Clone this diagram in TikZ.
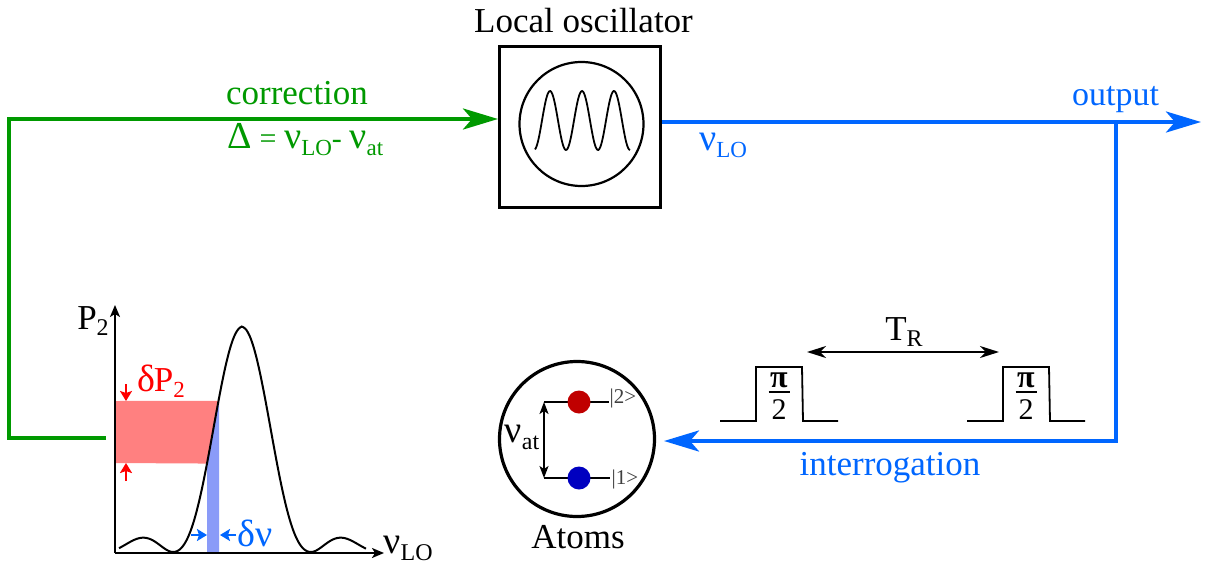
\documentclass[tikz,border=0pt]{standalone}
\usepackage{fontspec}
\setmainfont{Liberation Serif}
\usetikzlibrary{arrows.meta}
\definecolor{cgreen}{HTML}{009900}
\definecolor{cblue}{HTML}{0066FF}
\definecolor{cred}{HTML}{FF0000}
\definecolor{bandred}{HTML}{FF8080}
\definecolor{bandblue}{HTML}{8A9BF8}
\definecolor{dotred}{HTML}{C00000}
\definecolor{dotblue}{HTML}{0000C0}
\newcommand{\fs}[1]{\fontsize{#1}{#1}\selectfont}
\newcommand{\lowered}[3]{\raisebox{-#2pt}{\fs{#1}#3}}
\newcommand{\gk}[1]{{\fs{38}#1}}
\tikzset{
  x=1pt,y=-1pt,
  label34/.style={inner sep=0pt,anchor=base,font=\fs{35}},
  feed/.style={line width=4.2pt,line join=miter,-{Stealth[length=35pt,width=21pt,inset=9pt]}},
  thinarrow/.style={line width=1.8pt,-{Stealth[length=12pt,width=10pt,inset=3pt]}},
  twoarrow/.style={line width=2.2pt,{Stealth[length=19pt,width=12pt,inset=6pt]}-{Stealth[length=19pt,width=12pt,inset=6pt]}},
  smallarrow/.style={line width=2.6pt,-{Stealth[length=10pt,width=12pt,inset=2pt]}},
  pulse/.style={line width=1.8pt,line join=miter},
  dot/.style={circle,inner sep=0pt,minimum size=23pt},
}
\pgfmathdeclarefunction{lineshape}{1}{%
  \begingroup
  \pgfmathparse{(#1-242.013)/69}\let\uu\pgfmathresult
  \pgfmathparse{sin(180*\uu)/(3.14159*\uu)}\let\ss\pgfmathresult
  \pgfmathparse{552-225*\ss*\ss*(abs(\uu)>1?1.35:1)}%
  \pgfmathsmuggle\pgfmathresult
  \endgroup
}
\begin{document}
\begin{tikzpicture}
\useasboundingbox (0,0) rectangle (1205,568);

% error-signal bands
\fill[bandblue] (207,553) -- (219,553) -- (219,401)
  -- plot[domain=218.5:207,samples=12] ({\x},{lineshape(\x)}) -- cycle;
\fill[bandred] (115,401) -- plot[domain=218.5:207,samples=12] ({\x},{lineshape(\x)}) -- (115,463) -- cycle;

% axes
\coordinate (origin) at (115,553);
\coordinate (ytop) at (115,305);
\coordinate (xend) at (384,553);
\draw[thinarrow] (origin) -- (ytop);
\draw[thinarrow] (origin) -- (xend);
\draw[line width=2pt,smooth] plot[domain=119:366,samples=160] ({\x},{lineshape(\x)});
\node[label34] (ptwo) at (93,329) {P\lowered{24}{6}{2}};
\node[label34] (nuaxis) at (408,553) {\gk{ν}\lowered{24}{7}{LO}};

% delta P
\node[label34,text=cred] (dp) at (161,391) {\gk{δ}\kern-1pt P\lowered{23}{6}{2}};
\coordinate (ra1) at (126,384); \coordinate (ra2) at (126,401);
\coordinate (ra3) at (126,481); \coordinate (ra4) at (126,463);
\draw[smallarrow,cred] (ra1) -- (ra2);
\draw[smallarrow,cred] (ra3) -- (ra4);

% delta nu
\node[label34,text=cblue] (dn) at (255,546) {\gk{δν}};
\coordinate (ba1) at (191,535); \coordinate (ba2) at (207,535);
\coordinate (ba3) at (236,535); \coordinate (ba4) at (220,535);
\draw[smallarrow,cblue] (ba1) -- (ba2);
\draw[smallarrow,cblue] (ba3) -- (ba4);

% local oscillator
\node[draw,line width=3.2pt,minimum width=161pt,minimum height=161pt,inner sep=0pt] (lo) at (580.3,127.3) {};
\node[draw,circle,line width=2.2pt,minimum size=124pt,inner sep=0pt] (osc) at (581.5,124) {};
\draw[line width=1.8pt,smooth] plot[domain=535:630,samples=100] ({\x},{120.5-29.5*cos(((\x-550)/32)*360)});
\node[label34] (lolabel) at (583.5,32) {Local oscillator};

% correction loop
\coordinate (gstart) at (106,438);
\coordinate (gc1) at (9,438);
\coordinate (gc2) at (9,119);
\coordinate (gend) at (498,119);
\draw[feed,cgreen] (gstart) -- (gc1) -- (gc2) -- (gend);
\node[label34,text=cgreen] (corr) at (297,104) {correction};
\node[label34,text=cgreen,font=\fs{30}] (delta) at (305.5,148) {\gk{Δ} = \gk{ν}\lowered{23}{7}{LO}- \gk{ν}\lowered{23}{7}{at}};

% output loop
\coordinate (bstart) at (662,122);
\coordinate (bbranch) at (1116,122);
\coordinate (bend) at (1201,122);
\coordinate (bc) at (1116,441);
\coordinate (bat) at (664,441);
\draw[feed,cblue] (bstart) -- (bend);
\draw[feed,cblue] (bbranch) -- (bc) -- (bat);
\node[label34,text=cblue,font=\fs{34}] (out) at (1115.5,105) {output};
\node[label34,text=cblue] (nulo) at (723,150) {\gk{ν}\lowered{23}{7}{LO}};
\node[label34,text=cblue] (interr) at (890,475) {interrogation};

% pulses
\draw[pulse] (720,421) -- (756,421) -- (756,367) -- (802,367) -- (803,421) -- (838,421);
\draw[pulse] (967,421) -- (1003,421) -- (1003,367) -- (1049,367) -- (1050,421) -- (1085,421);
\foreach \nm/\px in {a/779,b/1026}{
  \node[label34,font=\fs{32}\bfseries] (pi\nm) at (\px,387) {π};
  \node[label34,font=\fs{30}] (two\nm) at (\px,419) {2};
  \draw[line width=1.8pt] (\px-10.5,392) -- (\px+10.5,392);
}
\coordinate (tl) at (807,352);
\coordinate (tr) at (999,352);
\draw[twoarrow] (tl) -- (tr);
\node[label34] (trlabel) at (904,340) {T\lowered{24}{6}{R}};

% atoms
\node[draw,circle,line width=3.2pt,minimum size=155pt,inner sep=0pt] (atoms) at (577,439) {};
\coordinate (l2a) at (544,402); \coordinate (l2b) at (609,402);
\coordinate (l1a) at (544,478); \coordinate (l1b) at (610,478);
\draw[line width=1.8pt] (l2a) -- (l2b);
\draw[line width=1.8pt] (l1a) -- (l1b);
\node[dot,fill=dotred] (d2) at (579,402) {};
\node[dot,fill=dotblue] (d1) at (579,478) {};
\draw[line width=1.8pt,{Stealth[length=12pt,width=9pt,inset=3pt]}-{Stealth[length=12pt,width=9pt,inset=3pt]}] (l2a) -- (l1a);
\node[inner sep=0pt,anchor=base,font=\fs{21},text=black!75] (k2) at (623,403) {|2>};
\node[inner sep=0pt,anchor=base,font=\fs{21},text=black!75] (k1) at (625,484) {|1>};
\node[label34] (nuat) at (522,442) {\gk{ν}\lowered{24}{7}{at}};
\node[label34] (atomlabel) at (578,548) {Atoms};
\end{tikzpicture}
\end{document}
